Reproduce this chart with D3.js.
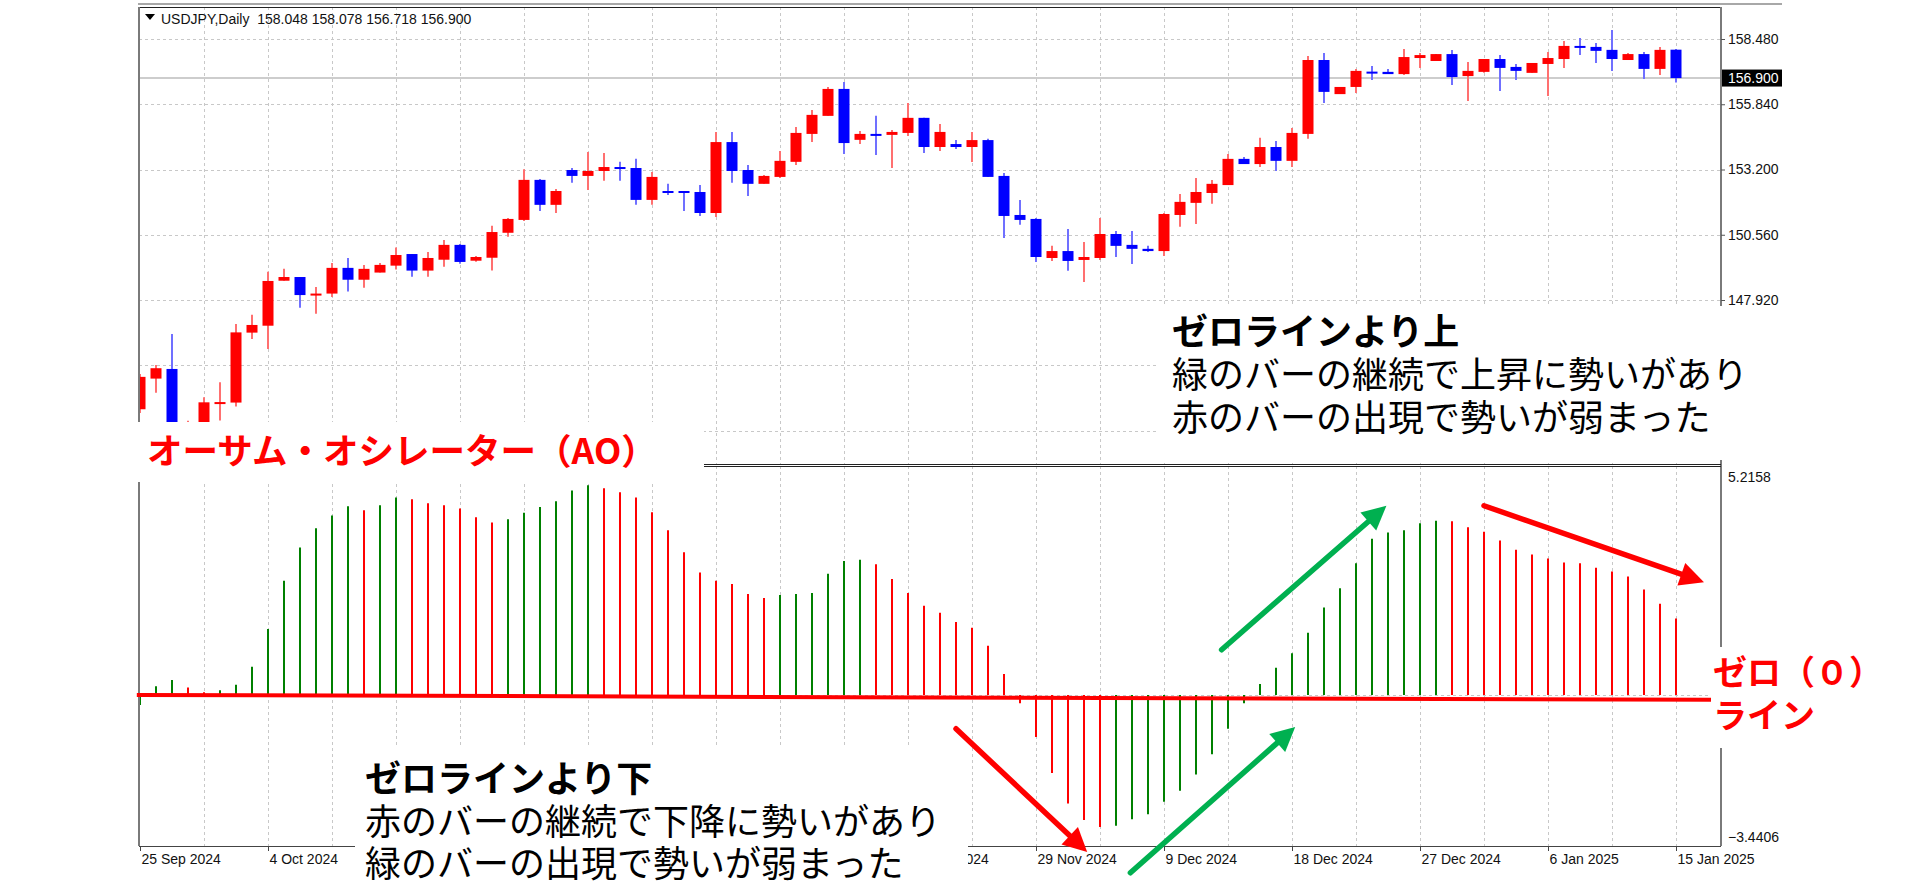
<!DOCTYPE html>
<html><head><meta charset="utf-8">
<script src="https://cdn.jsdelivr.net/npm/d3@7"></script>
<style>html,body{margin:0;padding:0;background:#fff;overflow:hidden}svg{display:block}</style>
</head><body>
<svg id="c" width="1920" height="886"></svg>
<script>
// ---------- DATA ----------
const dateLabels = ["25 Sep 2024","4 Oct 2024","14 Oct 2024","23 Oct 2024","1 Nov 2024","11 Nov 2024","20 Nov 2024","29 Nov 2024","9 Dec 2024","18 Dec 2024","27 Dec 2024","6 Jan 2025","15 Jan 2025"];
const dateIdx = [0,8,16,24,32,40,48,56,64,72,80,88,96];
const priceTicks = [142.64,145.28,147.92,150.56,153.20,155.84,158.48];
const aoTicks = [5.2158,-3.4406];
const lastPrice = 156.900;
const titleText = "USDJPY,Daily  158.048 158.078 156.718 156.900";

const open = [
143.50,144.74,145.13,142.30,142.85,143.76,143.77,146.60,146.88,148.70,
148.85,148.16,148.18,149.22,148.74,149.03,149.31,149.78,149.11,149.55,
150.15,149.51,149.63,150.64,151.16,152.78,151.77,153.18,152.94,153.14,
153.30,153.26,151.97,152.33,152.33,152.29,151.44,154.31,153.18,152.62,
152.90,153.51,154.64,155.37,156.46,154.40,154.64,154.60,154.68,155.29,
154.11,154.23,154.11,154.39,152.94,151.36,151.20,149.62,149.90,149.54,
149.62,150.59,150.15,149.99,149.90,151.36,151.85,152.25,152.57,153.63,
153.42,154.11,153.55,154.64,157.63,156.25,156.54,157.16,157.15,157.06,
157.71,157.59,157.87,156.98,157.15,157.67,157.35,157.11,157.47,157.67,
158.20,158.16,158.04,157.63,157.87,157.27,158.048];
const high = [
144.93,145.29,146.54,143.03,143.99,144.59,146.95,147.32,149.06,149.18,
148.85,148.45,149.42,149.62,149.34,149.42,150.04,149.78,149.86,150.35,
150.19,149.70,150.92,151.24,153.21,152.82,152.41,153.26,153.91,153.87,
153.51,153.63,153.10,152.62,152.33,152.57,154.72,154.72,153.38,152.98,
153.95,154.92,155.61,156.54,156.74,154.76,155.37,154.80,155.89,155.29,
155.04,154.39,154.72,154.44,153.06,151.97,151.24,150.11,150.79,150.27,
151.24,150.71,150.71,150.11,151.44,152.21,152.86,152.78,153.83,153.71,
154.48,154.35,154.88,157.79,157.91,156.54,157.27,157.39,157.27,158.08,
157.91,157.87,158.04,157.55,157.67,157.83,157.47,157.51,157.95,158.40,
158.52,158.32,158.84,157.91,157.95,158.16,158.078];
const low = [
143.35,144.17,142.55,142.10,142.70,143.04,143.61,146.34,145.94,148.70,
147.61,147.36,148.04,148.26,148.42,149.03,149.15,148.86,148.86,149.27,
149.39,149.47,149.11,150.48,151.12,151.52,151.44,152.66,152.37,152.74,
152.74,151.77,151.77,152.17,151.52,151.32,151.28,152.66,152.13,152.62,
152.86,153.38,154.31,155.37,153.83,154.23,153.79,153.26,154.56,153.87,
153.95,154.03,153.50,152.90,150.43,150.96,149.46,149.50,149.10,148.65,
149.54,149.66,149.38,149.86,149.70,150.88,151.00,151.81,152.57,153.42,
153.30,153.14,153.30,154.44,155.89,156.25,156.30,156.82,157.06,157.02,
157.31,157.59,156.62,155.97,157.11,156.38,156.82,157.11,156.17,157.31,
157.83,157.51,157.19,157.63,156.86,157.02,156.718];
const close = [
144.81,145.16,142.75,142.85,143.78,143.79,146.61,146.91,148.69,148.85,
148.12,148.18,149.22,148.74,149.18,149.34,149.74,149.11,149.62,150.15,
149.46,149.66,150.67,151.20,152.78,151.77,152.33,152.94,153.14,153.30,
153.22,151.97,152.90,152.29,152.25,151.44,154.31,153.14,152.62,152.94,
153.55,154.68,155.41,156.46,154.27,154.64,154.60,154.72,155.29,154.11,
154.72,154.11,154.39,152.90,151.32,151.16,149.66,149.90,149.50,149.66,
150.59,150.11,149.99,149.90,151.40,151.89,152.29,152.62,153.63,153.42,
154.11,153.55,154.68,157.63,156.34,156.54,157.19,157.13,157.06,157.75,
157.83,157.87,156.94,157.19,157.67,157.31,157.19,157.51,157.71,158.20,
158.12,158.00,157.67,157.87,157.27,158.04,156.900];
const ao = [
-0.23,0.20,0.34,0.17,0.06,0.11,0.23,0.64,1.50,2.60,
3.36,3.80,4.09,4.30,4.21,4.32,4.50,4.46,4.37,4.32,
4.25,4.05,3.93,4.00,4.15,4.28,4.41,4.66,4.78,4.71,
4.62,4.50,4.16,3.75,3.25,2.79,2.60,2.53,2.30,2.21,
2.28,2.30,2.32,2.76,3.05,3.08,2.98,2.64,2.32,2.03,
1.87,1.66,1.53,1.12,0.48,-0.19,-0.96,-1.78,-2.47,-2.85,
-3.01,-2.98,-2.83,-2.72,-2.43,-2.18,-1.81,-1.35,-0.77,-0.19,
0.25,0.62,0.95,1.42,1.99,2.43,3.00,3.56,3.70,3.75,
3.91,3.97,3.96,3.82,3.72,3.52,3.31,3.20,3.11,3.02,
3.00,2.90,2.81,2.70,2.40,2.08,1.74];

// annotation arrows in data space [barIndex, AO value]
const arrowFrom = [[67.6,1.03],[84,4.31],[51,-0.77],[61.9,-4.05]];
const arrowTo   = [[77.9,4.31],[97.75,2.57],[59.2,-3.58],[72.2,-0.73]];
const arrowColor = ["#00b050","#ff0000","#ff0000","#00b050"];

// ---------- LAYOUT ----------
const L = 139, R = 1721;
const TOP0 = 7, TOP1 = 464, AO0 = 466, AO1 = 846;
const FONT = "'Liberation Sans', Arial, sans-serif";
const JP = "'Noto Sans CJK JP', 'Noto Sans', sans-serif";
const GRID = "#c8c8c8";
// white annotation boxes [x, y, w, h]
const boxes = [[137,422,567,60],[1157,306,625,154],[355,748,613,138],[1711,647,171,101]];
const inBox = (px, py, w) => boxes.some(b => px >= b[0] && px + w <= b[0] + b[2] && py >= b[1] && py <= b[1] + b[3]);

const svg = d3.select('#c');
const x = d3.scaleLinear().domain([0, 96]).range([140, 1676]);
const yP = d3.scaleLinear().domain([147.92, 158.48]).range([300, 39]);
const yA = d3.scaleLinear().domain([-3.4406, 5.2158]).range([AO1, AO0]);

const defs = svg.append('defs');
defs.append('clipPath').attr('id','clipTop').append('rect').attr('x',L+1).attr('y',TOP0+1).attr('width',R-L-2).attr('height',TOP1-TOP0-2);
defs.append('clipPath').attr('id','clipAO').append('rect').attr('x',L+1).attr('y',AO0+1).attr('width',R-L-2).attr('height',AO1-AO0-1);

// ---------- GRID ----------
const grid = svg.append('g');
grid.selectAll('line.hp').data(priceTicks).join('line')
  .attr('x1',L).attr('x2',R).attr('y1',d=>Math.round(yP(d))+0.5).attr('y2',d=>Math.round(yP(d))+0.5)
  .attr('stroke',GRID).attr('stroke-dasharray','3,3');
const vIdx = d3.range(4, 97, 4);
grid.selectAll('line.vt').data(vIdx).join('line')
  .attr('x1',d=>Math.round(x(d))+0.5).attr('x2',d=>Math.round(x(d))+0.5).attr('y1',TOP0).attr('y2',TOP1)
  .attr('stroke',GRID).attr('stroke-dasharray','3,3');
grid.selectAll('line.va').data(vIdx).join('line')
  .attr('x1',d=>Math.round(x(d))+0.5).attr('x2',d=>Math.round(x(d))+0.5).attr('y1',AO0).attr('y2',AO1)
  .attr('stroke',GRID).attr('stroke-dasharray','3,3');
grid.append('line').attr('x1',L).attr('x2',R).attr('y1',Math.round(yA(0))+0.5).attr('y2',Math.round(yA(0))+0.5)
  .attr('stroke',GRID).attr('stroke-dasharray','3,3');

// last price line
svg.append('line').attr('x1',L).attr('x2',R).attr('y1',yP(lastPrice)).attr('y2',yP(lastPrice))
  .attr('stroke','#bdbdbd').attr('stroke-width',1.5);

// ---------- CANDLES ----------
const candles = d3.range(open.length).map(i=>({i,o:open[i],h:high[i],l:low[i],c:close[i]}));
const gC = svg.append('g').attr('clip-path','url(#clipTop)');
gC.selectAll('line.w').data(candles).join('line')
  .attr('x1',d=>x(d.i)).attr('x2',d=>x(d.i)).attr('y1',d=>yP(d.h)).attr('y2',d=>yP(d.l))
  .attr('stroke',d=>d.c>=d.o?'#ff7070':'#7070ff').attr('stroke-width',2);
gC.selectAll('rect.b').data(candles).join('rect')
  .attr('x',d=>x(d.i)-5.5).attr('width',11)
  .attr('y',d=>Math.min(yP(d.o),yP(d.c)))
  .attr('height',d=>Math.max(2,Math.abs(yP(d.o)-yP(d.c))))
  .attr('fill',d=>d.c>=d.o?'#ff0000':'#0000ff');

// ---------- AO ----------
const gA = svg.append('g').attr('clip-path','url(#clipAO)');
gA.selectAll('line').data(ao).join('line')
  .attr('x1',(d,i)=>x(i)).attr('x2',(d,i)=>x(i))
  .attr('y1',yA(0)).attr('y2',d=>yA(d))
  .attr('stroke',(d,i)=> (i===0 || d>ao[i-1]) ? '#008000' : '#ff0000')
  .attr('stroke-width',2);

// ---------- FRAME ----------
const fr = svg.append('g');
fr.append('line').attr('x1',L-1).attr('x2',1782).attr('y1',4).attr('y2',4).attr('stroke','#a8a8a8').attr('stroke-width',2);
fr.append('line').attr('x1',L-1).attr('x2',R).attr('y1',7.5).attr('y2',7.5).attr('stroke','#222');
fr.append('line').attr('x1',L).attr('x2',L).attr('y1',7).attr('y2',AO1).attr('stroke','#7a7a7a').attr('stroke-width',2);
fr.append('line').attr('x1',R).attr('x2',R).attr('y1',7).attr('y2',AO1).attr('stroke','#7a7a7a').attr('stroke-width',2);
fr.append('line').attr('x1',L).attr('x2',R).attr('y1',464.5).attr('y2',464.5).attr('stroke','#222');
fr.append('line').attr('x1',L).attr('x2',R).attr('y1',466.5).attr('y2',466.5).attr('stroke','#222');

// price axis
const pAxis = svg.append('g').attr('transform',`translate(${R},0)`)
  .call(d3.axisRight(yP).tickValues(priceTicks).tickFormat(d3.format('.3f')).tickSize(4).tickPadding(3));
pAxis.select('.domain').remove();
pAxis.selectAll('line').attr('stroke','#555');
pAxis.selectAll('text').attr('font-family',FONT).attr('font-size',14).attr('fill','#111');
// labels that the annotation box hides in the reference
pAxis.selectAll('.tick text').filter(d => inBox(R + 7, yP(d), 52)).remove();

// last price label
const lp = svg.append('g').attr('transform',`translate(${R+1},${yP(lastPrice)})`);
lp.append('rect').attr('x',0).attr('y',-8.5).attr('width',60).attr('height',17).attr('fill','#000');
lp.append('text').attr('x',6).attr('y',5).attr('font-family',FONT).attr('font-size',14).attr('fill','#fff').text(d3.format('.3f')(lastPrice));

// AO axis
const aAxis = svg.append('g').attr('transform',`translate(${R},0)`)
  .call(d3.axisRight(yA).tickValues(aoTicks).tickFormat(d3.format('.4f')).tickSize(0).tickPadding(7));
aAxis.select('.domain').remove();
aAxis.selectAll('text').attr('font-family',FONT).attr('font-size',14).attr('fill','#111')
  .attr('dy',d=> d>0 ? '1.1em' : '-0.3em');

// date axis
const xAxis = svg.append('g').attr('transform',`translate(0,${AO1})`)
  .call(d3.axisBottom(x).tickValues(dateIdx).tickFormat((d,k)=>dateLabels[k]).tickSize(5).tickPadding(3));
xAxis.select('.domain').attr('d',`M${L},0.5H${R}`).attr('stroke','#444');
xAxis.selectAll('line').attr('stroke','#444');
xAxis.selectAll('text').attr('font-family',FONT).attr('font-size',14).attr('fill','#111')
  .attr('text-anchor','start').attr('x',1);
xAxis.selectAll('.tick text').filter(d => inBox(x(d) + 1, AO1 + 12, 78)).remove();

// title
svg.append('path').attr('d','M145,14L155,14L150,20Z').attr('fill','#000');
svg.append('text').attr('x',161).attr('y',24).attr('font-family',FONT).attr('font-size',14).attr('fill','#111')
  .attr('xml:space','preserve').style('white-space','pre').text(titleText);

// ---------- ANNOTATIONS ----------
// zero line (hand drawn, red)
svg.append('line').attr('x1',x(-0.2)).attr('x2',x(98.2)).attr('y1',yA(0)).attr('y2',yA(-0.11))
  .attr('stroke','#ff0000').attr('stroke-width',4);

// white boxes
svg.selectAll('rect.box').data(boxes).join('rect').attr('class','box')
  .attr('x',d=>d[0]).attr('y',d=>d[1]).attr('width',d=>d[2]).attr('height',d=>d[3]).attr('fill','#fff');

// multi-line text block: lines = [[string, weight], ...]
function block(lines, tx, ty0, gap, size, color){
  const t = svg.append('text').attr('font-family',JP).attr('font-size',size).attr('fill',color)
    .attr('dominant-baseline','central');
  lines.forEach((ln,k)=>{
    t.append('tspan').attr('x',tx).attr('y',ty0 + k*gap).attr('font-weight',ln[1])
      .attr('dominant-baseline','central').text(ln[0]);
  });
}
block([['オーサム・オシレーター（AO）',700]],147,448,0,35.5,'#ff0000');
block([['ゼロラインより上',700],['緑のバーの継続で上昇に勢いがあり',400],['赤のバーの出現で勢いが弱まった',400]],1172,329,43,36,'#000');
block([['ゼロラインより下',700],['赤のバーの継続で下降に勢いがあり',400],['緑のバーの出現で勢いが弱まった',400]],365,776,42.5,36,'#000');
block([['ゼロ（０）',700],['ライン',700]],1713,670,43,34,'#ff0000');

// arrows
arrowFrom.forEach((f,k)=>{
  const x1=x(f[0]), y1=yA(f[1]), x2=x(arrowTo[k][0]), y2=yA(arrowTo[k][1]);
  const dx=x2-x1, dy=y2-y1, len=Math.hypot(dx,dy), ux=dx/len, uy=dy/len;
  const hl=24, hw=12;
  const bx=x2-ux*hl, by=y2-uy*hl;
  svg.append('line').attr('x1',x1).attr('y1',y1).attr('x2',bx+ux*2).attr('y2',by+uy*2)
    .attr('stroke',arrowColor[k]).attr('stroke-width',5.5).attr('stroke-linecap','round');
  svg.append('path').attr('d',`M${x2},${y2}L${bx-uy*hw},${by+ux*hw}L${bx+uy*hw},${by-ux*hw}Z`)
    .attr('fill',arrowColor[k]);
});
</script>
</body></html>
